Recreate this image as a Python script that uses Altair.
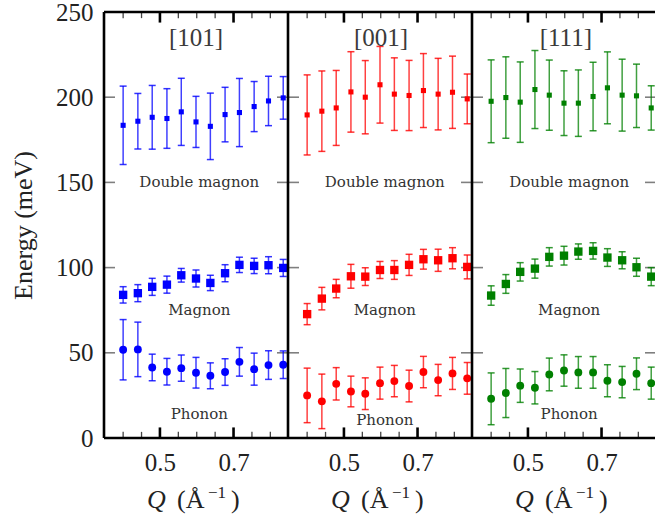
import altair as alt
import pandas as pd

# ---------------- data ----------------
Q = [0.400, 0.440, 0.479, 0.519, 0.558, 0.598, 0.637, 0.677, 0.716, 0.756, 0.795, 0.835]
directions = ["[101]", "[001]", "[111]"]
dir_colors = ["#0000ff", "#ff0000", "#008000"]
branch_names = ["Double magnon", "Magnon", "Phonon"]

# [101]
dm_101 = [183.5, 185.9, 188.2, 187.5, 191.4, 185.5, 182.9, 189.8, 191.0, 194.5, 197.8, 199.6]
dm_101_err = [23.0, 16.3, 18.7, 17.5, 19.7, 15.0, 19.5, 16.0, 20.0, 14.7, 14.5, 12.5]
mg_101 = [84.0, 85.0, 88.7, 90.0, 95.5, 93.6, 91.0, 96.7, 101.6, 101.0, 101.4, 99.8]
mg_101_err = [4.8, 5.0, 5.0, 5.0, 4.0, 5.0, 4.5, 5.0, 4.5, 4.5, 5.0, 5.0]
ph_101 = [51.8, 52.0, 41.4, 38.9, 41.0, 38.3, 36.5, 38.7, 44.7, 40.4, 42.8, 43.0]
ph_101_err = [17.7, 16.0, 7.8, 7.8, 7.7, 9.0, 7.6, 7.8, 8.4, 9.4, 8.4, 8.1]

# [001]
dm_001 = [189.6, 191.8, 193.7, 203.1, 200.0, 207.3, 201.8, 201.0, 203.9, 201.8, 202.9, 199.0]
dm_001_err = [23.5, 23.6, 22.0, 23.6, 21.5, 22.5, 21.3, 20.6, 21.7, 21.0, 21.2, 14.6]
mg_001 = [72.7, 81.8, 87.7, 94.9, 94.7, 98.6, 98.6, 101.6, 104.9, 104.3, 105.5, 100.4]
mg_001_err = [6.2, 6.6, 5.4, 7.0, 5.2, 5.0, 5.5, 6.2, 5.8, 6.5, 6.2, 7.0]
ph_001 = [25.0, 21.5, 31.8, 27.3, 26.0, 32.2, 33.4, 30.5, 38.7, 34.0, 37.9, 35.0]
ph_001_err = [16.0, 16.0, 9.5, 9.0, 9.3, 9.4, 9.2, 9.3, 9.2, 9.2, 9.4, 9.3]

# [111]
dm_111 = [197.6, 199.8, 197.1, 204.5, 201.2, 196.5, 196.5, 200.4, 205.5, 201.2, 200.8, 193.7]
dm_111_err = [24.3, 23.9, 23.6, 22.9, 20.6, 19.0, 19.5, 20.1, 21.1, 21.1, 18.6, 13.0]
mg_111 = [83.6, 90.4, 97.5, 99.4, 106.3, 107.0, 109.4, 109.8, 105.9, 104.3, 100.2, 94.7]
mg_111_err = [5.7, 5.5, 5.4, 5.6, 5.4, 5.5, 4.5, 4.8, 5.2, 5.0, 5.3, 5.3]
ph_111 = [23.0, 26.4, 30.7, 29.5, 37.3, 39.6, 38.5, 38.5, 33.6, 32.8, 37.7, 32.2]
ph_111_err = [15.2, 14.4, 9.8, 9.5, 9.6, 9.2, 9.3, 9.3, 9.4, 9.2, 9.3, 9.4]

# label placement (Q, Energy) per panel
label_Q = [0.607, 0.611, 0.612]
label_E_dm = [150, 150, 150]
label_E_mg = [75, 75, 75]
label_E_ph = [14, 10.5, 14]
title_Q = [0.598, 0.601, 0.603]
title_E = 235
x_tick_values = [0.5, 0.7]
y_tick_values = [0, 50, 100, 150, 200, 250]

# ---------------- layout constants ----------------
QMIN, QMAX = 0.348, 0.848       # per-panel Q range
SHIFT = 0.5                     # panel offset in the shared x scale
W, H = 551, 426
FONT = "Liberation Serif"
LABEL_FONT = "DejaVu Serif"

series = {
    0: [(dm_101, dm_101_err), (mg_101, mg_101_err), (ph_101, ph_101_err)],
    1: [(dm_001, dm_001_err), (mg_001, mg_001_err), (ph_001, ph_001_err)],
    2: [(dm_111, dm_111_err), (mg_111, mg_111_err), (ph_111, ph_111_err)],
}

rows = []
for k, lst in series.items():
    for b, (vals, errs) in enumerate(lst):
        for q, v, e in zip(Q, vals, errs):
            rows.append(dict(direction=directions[k], branch=branch_names[b],
                             X=q + SHIFT * k, E=v, lo=v - e, hi=v + e))
df = pd.DataFrame(rows)

color = alt.Color("direction:N", scale=alt.Scale(domain=directions, range=dir_colors), legend=None)
xs = alt.Scale(domain=[QMIN, QMIN + W / 368.0], nice=False, zero=False)
ys = alt.Scale(domain=[0, 250], nice=False, zero=False)

label_expr = ("datum.value < %f ? format(datum.value, '.1f') : "
              "datum.value < %f ? format(datum.value - 0.5, '.1f') : format(datum.value - 1.0, '.1f')"
              % (QMAX, QMAX + SHIFT))

x_axis = alt.Axis(values=[v + SHIFT * k for k in range(3) for v in x_tick_values],
                  labelExpr=label_expr, ticks=False, domain=False, grid=False,
                  labelFont=FONT, labelFontSize=25, labelColor="#222", labelPadding=12,
                  title=None)
y_axis = alt.Axis(values=y_tick_values, ticks=False, domain=False, grid=False,
                  labelFont=FONT, labelFontSize=25, labelColor="#222", labelPadding=11,
                  title="Energy (meV)", titleFont=FONT, titleFontSize=26,
                  titleFontWeight="normal", titleColor="#222",
                  titleX=-81, titleY=H / 2, titleAngle=270,
                  titleAlign="center", titleBaseline="middle")


def X(field):
    return alt.X(field, scale=xs, axis=x_axis)


def Y(field):
    return alt.Y(field, scale=ys, axis=y_axis)


base = alt.Chart(df)

bars = base.mark_rule(strokeWidth=1.5, opacity=0.75).encode(
    x=X("X:Q"), y=Y("lo:Q"), y2="hi:Q", color=color)
cap_lo = base.mark_tick(orient="horizontal", size=7, thickness=1.5, opacity=0.8).encode(
    x=X("X:Q"), y=Y("lo:Q"), color=color)
cap_hi = base.mark_tick(orient="horizontal", size=7, thickness=1.5, opacity=0.8).encode(
    x=X("X:Q"), y=Y("hi:Q"), color=color)

pt_dm = base.transform_filter(alt.datum.branch == "Double magnon").mark_square(
    size=26, opacity=1).encode(x=X("X:Q"), y=Y("E:Q"), color=color)
pt_mg = base.transform_filter(alt.datum.branch == "Magnon").mark_square(
    size=70, opacity=1).encode(x=X("X:Q"), y=Y("E:Q"), color=color)
pt_ph = base.transform_filter(alt.datum.branch == "Phonon").mark_circle(
    size=62, opacity=1).encode(x=X("X:Q"), y=Y("E:Q"), color=color)

# ---------------- frame decorations ----------------
TICK_Q = 11 / 368.0
gray_rows = []
for k in range(3):
    left = QMIN + SHIFT * k
    right = QMAX + SHIFT * k
    for yv in [50, 100, 150, 200]:
        gray_rows.append(dict(x=left, x2=left + TICK_Q, y=yv))
        gray_rows.append(dict(x=right - TICK_Q, x2=right, y=yv))
gray = alt.Chart(pd.DataFrame(gray_rows)).mark_rule(color="#7f7f7f", strokeWidth=1.6).encode(
    x=X("x:Q"), x2="x2:Q", y=Y("y:Q"))

minor_q = [0.40, 0.45, 0.55, 0.60, 0.65, 0.75, 0.80]
tick_rows_minor, tick_rows_major = [], []
for k in range(3):
    for q in minor_q:
        tick_rows_minor.append(dict(x=q + SHIFT * k, y=0, y2=3.6))
        tick_rows_minor.append(dict(x=q + SHIFT * k, y=250, y2=250 - 3.6))
    for q in x_tick_values:
        tick_rows_major.append(dict(x=q + SHIFT * k, y=0, y2=6.2))
        tick_rows_major.append(dict(x=q + SHIFT * k, y=250, y2=250 - 6.2))
ticks_minor = alt.Chart(pd.DataFrame(tick_rows_minor)).mark_rule(color="#444", strokeWidth=1.3).encode(
    x=X("x:Q"), y=Y("y:Q"), y2="y2:Q")
ticks_major = alt.Chart(pd.DataFrame(tick_rows_major)).mark_rule(color="#000", strokeWidth=2.6).encode(
    x=X("x:Q"), y=Y("y:Q"), y2="y2:Q")

vb = pd.DataFrame(dict(x=[QMIN + SHIFT * k for k in range(3)], y=[0] * 3, y2=[250] * 3))
vborders = alt.Chart(vb).mark_rule(color="#000", strokeWidth=2.6).encode(
    x=X("x:Q"), y=Y("y:Q"), y2="y2:Q")
hb = pd.DataFrame(dict(x=[QMIN, QMIN], x2=[QMIN + 1.6, QMIN + 1.6], y=[0, 250]))
hborders = alt.Chart(hb).mark_rule(color="#000", strokeWidth=2.6).encode(
    x=X("x:Q"), x2="x2:Q", y=Y("y:Q"))

# ---------------- texts ----------------
lab_rows = []
for k in range(3):
    lab_rows.append(dict(x=label_Q[k] + SHIFT * k, y=label_E_dm[k], t="Double magnon"))
    lab_rows.append(dict(x=label_Q[k] + SHIFT * k, y=label_E_mg[k], t="Magnon"))
    lab_rows.append(dict(x=label_Q[k] + SHIFT * k, y=label_E_ph[k], t="Phonon"))
labels = alt.Chart(pd.DataFrame(lab_rows)).mark_text(
    font=LABEL_FONT, fontSize=15, color="#333", baseline="middle", align="center").encode(
    x=X("x:Q"), y=Y("y:Q"), text="t:N")

tit = pd.DataFrame(dict(x=[title_Q[k] + SHIFT * k for k in range(3)], y=[title_E] * 3, t=directions))
titles = alt.Chart(tit).mark_text(
    font=FONT, fontSize=25, color="#3a3a3a", baseline="middle", align="center").encode(
    x=X("x:Q"), y=Y("y:Q"), text="t:N")

# x-axis title "Q (Å^-1)" under each panel
xc = pd.DataFrame(dict(x=[0.598 + SHIFT * k for k in range(3)]))


def piece(txt, dx, dy=0, size=26, style="normal"):
    return alt.Chart(xc).mark_text(
        text=txt, font=FONT, fontSize=size, fontStyle=style, color="#222",
        align="left", baseline="alphabetic", dx=dx, dy=dy).encode(
        x=X("x:Q"), y=alt.value(H + 70))


xt = (piece("Q", -49, style="italic") + piece("(Å", -19) +
      piece("−1", 12, dy=-10, size=17) + piece(")", 35))

chart = alt.layer(
    gray, ticks_minor, ticks_major,
    bars, cap_lo, cap_hi, pt_dm, pt_mg, pt_ph,
    labels, titles, xt, vborders, hborders,
).properties(
    width=W, height=H,
    autosize=alt.AutoSizeParams(type="none"),
    padding={"left": 104, "top": 12, "right": 0, "bottom": 84},
).configure_view(stroke=None).configure(background="white")

chart.save("out.html", embed_options={"renderer": "svg", "actions": False})
